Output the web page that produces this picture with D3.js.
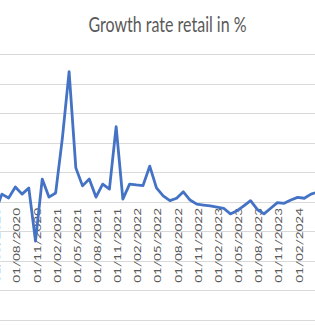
<!DOCTYPE html>
<html><head><meta charset="utf-8">
<script src="https://cdn.jsdelivr.net/npm/d3@7/dist/d3.min.js"></script>
<style>body{margin:0;background:#fff}</style>
</head><body>
<svg id="c" width="315" height="325"></svg>
<script>
const months = ["05/2020","06/2020","07/2020","08/2020","09/2020","10/2020","11/2020","12/2020",
  "01/2021","02/2021","03/2021","04/2021","05/2021","06/2021","07/2021","08/2021","09/2021","10/2021","11/2021","12/2021",
  "01/2022","02/2022","03/2022","04/2022","05/2022","06/2022","07/2022","08/2022","09/2022","10/2022","11/2022","12/2022",
  "01/2023","02/2023","03/2023","04/2023","05/2023","06/2023","07/2023","08/2023","09/2023","10/2023","11/2023","12/2023",
  "01/2024","02/2024","03/2024","04/2024","05/2024"];
const growth = [-3.6, 2.5, 1.2, 4.9, 2.5, 4.6, -13.4, 7.6,
  1.5, 2.9, 21.5, 44.0, 11.4, 5.3, 7.6, 1.5, 5.9, 4.2, 25.4, 0.8,
  5.9, 5.6, 5.4, 12.0, 4.6, 1.9, 0.3, 1.1, 3.3, 0.5, -0.9, -1.2,
  -1.5, -1.9, -2.3, -4.2, -3.1, -1.5, 0.3, -2.7, -4.2, -2.3, -0.4, -0.6,
  0.5, 1.4, 1.1, 2.5, 3.2];
const tickLabels = ["01/05/2020","01/08/2020","01/11/2020","01/02/2021","01/05/2021","01/08/2021",
  "01/11/2021","01/02/2022","01/05/2022","01/08/2022","01/11/2022","01/02/2023","01/05/2023",
  "01/08/2023","01/11/2023","01/02/2024","01/05/2024"];
const yTicks = [-40,-30,-20,-10,0,10,20,30,40,50];
const title = "Growth rate retail in %";

const svg = d3.select("#c");
const x = d3.scaleLinear().domain([0, months.length - 1]).range([-4.82, 317.74]);
const y = d3.scaleLinear().domain([-40, 50]).range([319.5, 54]);
const SY = 1.35;
const font = "Lato, 'Open Sans', sans-serif";

// gridlines
svg.append("g").selectAll("line").data(yTicks).join("line")
  .attr("x1", -10).attr("x2", 330)
  .attr("y1", d => Math.round(y(d)) + 0.5).attr("y2", d => Math.round(y(d)) + 0.5)
  .attr("stroke", "#d9d9d9").attr("stroke-width", 1);

// x tick labels
const tickIdx = tickLabels.map(l => months.indexOf(l.slice(3)));
svg.append("g").selectAll("text").data(tickLabels).join("text")
  .attr("transform", (d, i) => `translate(${x(tickIdx[i]) + 1.5},208) scale(1,${SY}) rotate(-90)`)
  .attr("text-anchor", "end").attr("dy", "0.35em")
  .attr("font-family", font).attr("font-size", 10).attr("fill", "#595959")
  .text(d => d);

// line
svg.append("path").datum(growth)
  .attr("fill", "none").attr("stroke", "#4472c4").attr("stroke-width", 2.8)
  .attr("stroke-linejoin", "round").attr("stroke-linecap", "round")
  .attr("d", d3.line().x((d, i) => x(i)).y(d => y(d)));

// title
svg.append("text")
  .attr("transform", `translate(167.5,31.5) scale(1,${SY})`)
  .attr("text-anchor", "middle").attr("font-family", font).attr("font-size", 16)
  .attr("fill", "#595959").text(title);
</script>
</body></html>
